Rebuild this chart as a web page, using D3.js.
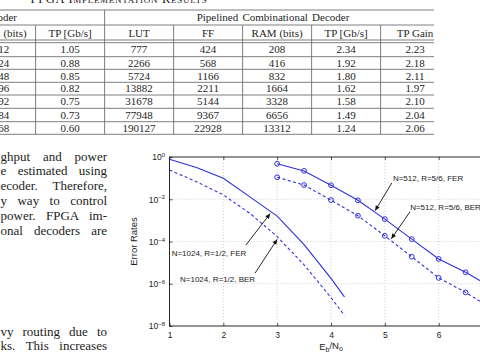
<!DOCTYPE html>
<html>
<head>
<meta charset="utf-8">
<script src="https://cdn.jsdelivr.net/npm/d3@7"></script>
<style>
    body { margin: 0; background: #fff; }
    svg { display: block; }
</style>
</head>
<body>
<svg id="page" width="480" height="355"></svg>
<script>
// ---- table values ----
const tableTitle = "FPGA Implementation Results";
const groupLeft = "Combinational Decoder";
const groupRight = "Pipelined Combinational Decoder";
const tableColumns = ["RAM (bits)", "TP [Gb/s]", "LUT", "FF", "RAM (bits)", "TP [Gb/s]", "TP Gain"];
const ramComb = ["512", "1024", "2048", "4096", "8192", "16384", "32768"];
const tpComb = ["1.05", "0.88", "0.85", "0.82", "0.75", "0.73", "0.60"];
const lutPipe = ["777", "2266", "5724", "13882", "31678", "77948", "190127"];
const ffPipe = ["424", "568", "1166", "2211", "5144", "9367", "22928"];
const ramPipe = ["208", "416", "832", "1664", "3328", "6656", "13312"];
const tpPipe = ["2.34", "1.92", "1.80", "1.62", "1.58", "1.49", "1.24"];
const tpGain = ["2.23", "2.18", "2.11", "1.97", "2.10", "2.04", "2.06"];

// ---- body text (cropped column) ----
const bodyLinesTop = ["ghput and power", "e estimated using", "ecoder. Therefore,", "y way to control", "power. FPGA im-", "onal decoders are"];
const bodyLinesBottom = ["vy routing due to", "ks. This increases"];

// ---- chart values ----
const ebno1024 = [1, 1.5, 2, 2.5, 3, 3.5, 4, 4.25];
const fer1024 = [0.79, 0.32, 0.098, 1.26e-2, 1.6e-3, 7.1e-5, 1.8e-6, 2.4e-7];
const ber1024 = [0.24, 6.8e-2, 1.6e-2, 2.1e-3, 1.7e-4, 7.9e-6, 2.2e-7, 3.2e-8];
const ebno512 = [3, 3.5, 4, 4.5, 5, 5.5, 6, 6.5, 7];
const fer512 = [0.48, 0.22, 4.6e-2, 8.9e-3, 1.15e-3, 1.3e-4, 1.5e-5, 3.5e-6, 6.3e-7];
const ber512 = [0.11, 4.7e-2, 9.1e-3, 1.66e-3, 1.86e-4, 1.9e-5, 1.9e-6, 3.9e-7, 6.3e-8];
const xTicks = [1, 2, 3, 4, 5, 6, 7];
const yTickExps = [0, -2, -4, -6, -8];

// annotation text and arrows, in data units
const notes = [
    {label: "N=512, R=5/6, FER", tx: 5.15, ty: 7.3e-2, fx: 5.13, fy: 5.9e-2, px: 4.82, py: 2.9e-3},
    {label: "N=512, R=5/6, BER", tx: 5.47, ty: 3.2e-3, fx: 5.47, fy: 2.6e-3, px: 5.12, py: 1.35e-4},
    {label: "N=1024, R=1/2, FER", tx: 1.04, ty: 2.0e-5, fx: 2.42, fy: 6.8e-5, px: 2.87, py: 2.1e-3},
    {label: "N=1024, R=1/2, BER", tx: 1.195, ty: 1.17e-6, fx: 2.59, fy: 3.2e-6, px: 3.0, py: 1.26e-4}
];

const svg = d3.select("#page");
const serif = "'Liberation Serif', 'Times New Roman', serif";
const sans = "'Liberation Sans', Arial, Helvetica, sans-serif";
const blue = "#2f2fe0";

// ================= TABLE =================
const tbl = svg.append("g");
svg.append("defs").append("clipPath").attr("id", "tclip")
    .append("rect").attr("x", 0).attr("y", 0).attr("width", 434).attr("height", 140);
tbl.attr("clip-path", "url(#tclip)");

const colW = 69, col0 = -33.4;
const colLeft = i => col0 + i * colW;
const colMid = i => colLeft(i) + colW / 2;
const rowLines = [42.7, 56.7, 69.3, 82.3, 95, 108.3, 121.7, 134.3];
const rowMid = i => (rowLines[i] + rowLines[i + 1]) / 2;
const lineColor = "#707070";

tbl.append("text")
    .attr("x", 119).attr("y", 3)
    .attr("text-anchor", "middle")
    .style("font-family", serif).style("font-size", "12.5px")
    .style("font-variant", "small-caps").style("letter-spacing", "0.7px")
    .attr("fill", "#222")
    .text(tableTitle);

[10, 25, 40].concat(rowLines).forEach(y => {
    tbl.append("line").attr("x1", 0).attr("x2", 460).attr("y1", y).attr("y2", y)
        .attr("stroke", lineColor).attr("stroke-width", 0.9);
});
for (let i = 1; i < 7; i++) {
    tbl.append("line")
        .attr("x1", colLeft(i)).attr("x2", colLeft(i))
        .attr("y1", i === 2 ? 10 : 25).attr("y2", 134.3)
        .attr("stroke", lineColor).attr("stroke-width", 0.9);
}

const cellText = (x, y, s, anchor) => tbl.append("text")
    .attr("x", x).attr("y", y)
    .attr("text-anchor", anchor || "middle")
    .style("font-family", serif).style("font-size", "11px")
    .attr("fill", "#262626")
    .text(s);

cellText(17, 20.5, groupLeft, "end");
cellText(273, 20.5, groupRight).style("word-spacing", "1.5px");
tableColumns.forEach((c, i) => cellText(colMid(i), 37, c));

const tableCols = [ramComb, tpComb, lutPipe, ffPipe, ramPipe, tpPipe, tpGain];
tableCols.forEach((col, ci) => {
    col.forEach((v, ri) => {
        // first column is cut by the page edge; its numbers end flush near x=9
        if (ci === 0) cellText(9.2, rowMid(ri) + 3.7, v, "end");
        else cellText(colMid(ci), rowMid(ri) + 3.7, v);
    });
});

// ================= BODY TEXT =================
const body = svg.append("g");
function bodyLine(s, y) {
    const t = body.append("text")
        .attr("x", 0.5).attr("y", y)
        .style("font-family", serif).style("font-size", "13px")
        .attr("fill", "#1c1c1c")
        .text(s);
    const spaces = (s.match(/ /g) || []).length;
    const extra = 107 - 0.5 - t.node().getComputedTextLength();
    if (spaces > 0 && extra > 0) t.style("word-spacing", (extra / spaces) + "px");
}
bodyLinesTop.forEach((s, i) => bodyLine(s, 160.5 + i * 14.8));
bodyLinesBottom.forEach((s, i) => bodyLine(s, 335.5 + i * 14.5));

// ================= CHART =================
const x = d3.scaleLinear().domain([1, 7]).range([169.5, 492.5]);
const y = d3.scaleLog().domain([1e-8, 1]).range([326, 157]);

const chart = svg.append("g");

// grid
const grid = chart.append("g")
    .attr("stroke", "#c4c4c4").attr("stroke-width", 0.8).attr("stroke-dasharray", "1,2");
xTicks.slice(1).forEach(t => grid.append("line")
    .attr("x1", x(t)).attr("x2", x(t)).attr("y1", y(1)).attr("y2", y(1e-8)));
yTickExps.slice(1, -1).forEach(e => grid.append("line")
    .attr("x1", x(1)).attr("x2", x(7)).attr("y1", y(Math.pow(10, e))).attr("y2", y(Math.pow(10, e))));

// axes
const yTickVals = yTickExps.map(e => Math.pow(10, e));
const xAxis = chart.append("g")
    .attr("transform", "translate(0," + y(1e-8) + ")")
    .call(d3.axisBottom(x).tickValues(xTicks).tickSize(-3).tickPadding(5.5).tickFormat(d3.format("d")));
chart.append("g")
    .attr("transform", "translate(0," + y(1) + ")")
    .call(d3.axisTop(x).tickValues(xTicks).tickSize(-3).tickFormat(""));
const yAxis = chart.append("g")
    .attr("transform", "translate(" + x(1) + ",0)")
    .call(d3.axisLeft(y).tickValues(yTickVals).tickSize(-3).tickPadding(7).tickFormat(""));

chart.selectAll(".domain").remove();
chart.selectAll(".tick line").attr("stroke", "#222").attr("stroke-width", 0.8);
xAxis.selectAll("text").style("font-family", sans).style("font-size", "8.5px").attr("fill", "#222");

yAxis.selectAll(".tick text").each(function (d) {
    const t = d3.select(this)
        .attr("x", -4.5).attr("dy", "0.35em")
        .style("font-family", sans).style("font-size", "8.5px").attr("fill", "#222");
    t.append("tspan").text("10");
    t.append("tspan").attr("dy", "-0.55em").style("font-size", "6px")
        .text(Math.round(Math.log10(d)) === 0 ? "0" : "\u2212" + Math.abs(Math.round(Math.log10(d))));
});

// frame
chart.append("rect")
    .attr("x", x(1)).attr("y", y(1))
    .attr("width", x(7) - x(1)).attr("height", y(1e-8) - y(1))
    .attr("fill", "none").attr("stroke", "#111").attr("stroke-width", 0.9);

// axis titles
const xl = chart.append("text")
    .attr("x", 331).attr("y", 350)
    .attr("text-anchor", "middle")
    .style("font-family", sans).style("font-size", "9.5px").attr("fill", "#222");
xl.append("tspan").text("E");
xl.append("tspan").attr("dy", "0.3em").style("font-size", "7px").text("b");
xl.append("tspan").attr("dy", "-0.3em").text("/N");
xl.append("tspan").attr("dy", "0.3em").style("font-size", "7px").text("o");

chart.append("text")
    .attr("transform", "translate(136.5," + ((y(1) + y(1e-8)) / 2) + ") rotate(-90)")
    .attr("text-anchor", "middle")
    .style("font-family", sans).style("font-size", "9.5px").attr("fill", "#222")
    .text("Error Rates");

// curves
const line = d3.line().x(d => x(d[0])).y(d => y(d[1]));
const series = [
    {xs: ebno1024, ys: fer1024, dash: null, marks: false},
    {xs: ebno1024, ys: ber1024, dash: "3,2.5", marks: false},
    {xs: ebno512, ys: fer512, dash: null, marks: true},
    {xs: ebno512, ys: ber512, dash: "3,2.5", marks: true}
];
series.forEach(s => {
    const pts = s.xs.map((v, i) => [v, s.ys[i]]);
    chart.append("path")
        .datum(pts)
        .attr("d", line)
        .attr("fill", "none")
        .attr("stroke", blue)
        .attr("stroke-width", 1.1)
        .attr("stroke-dasharray", s.dash);
    if (s.marks) {
        chart.selectAll(null)
            .data(pts)
            .enter()
            .append("circle")
            .attr("cx", d => x(d[0]))
            .attr("cy", d => y(d[1]))
            .attr("r", 2.4)
            .attr("fill", "none")
            .attr("stroke", blue)
            .attr("stroke-width", 1);
    }
});

// annotations
svg.select("defs").append("marker")
    .attr("id", "arrow")
    .attr("viewBox", "0 0 10 10")
    .attr("refX", 10).attr("refY", 5)
    .attr("markerWidth", 6).attr("markerHeight", 5)
    .attr("markerUnits", "userSpaceOnUse")
    .attr("orient", "auto")
    .append("path").attr("d", "M0,0.5L10,5L0,9.5Z").attr("fill", "#111");

notes.forEach(n => {
    chart.append("line")
        .attr("x1", x(n.fx)).attr("y1", y(n.fy))
        .attr("x2", x(n.px)).attr("y2", y(n.py))
        .attr("stroke", "#111").attr("stroke-width", 0.9)
        .attr("marker-end", "url(#arrow)");
    chart.append("text")
        .attr("x", x(n.tx)).attr("y", y(n.ty))
        .style("font-family", sans).style("font-size", "8px").attr("fill", "#222")
        .text(n.label);
});
</script>
</body>
</html>
